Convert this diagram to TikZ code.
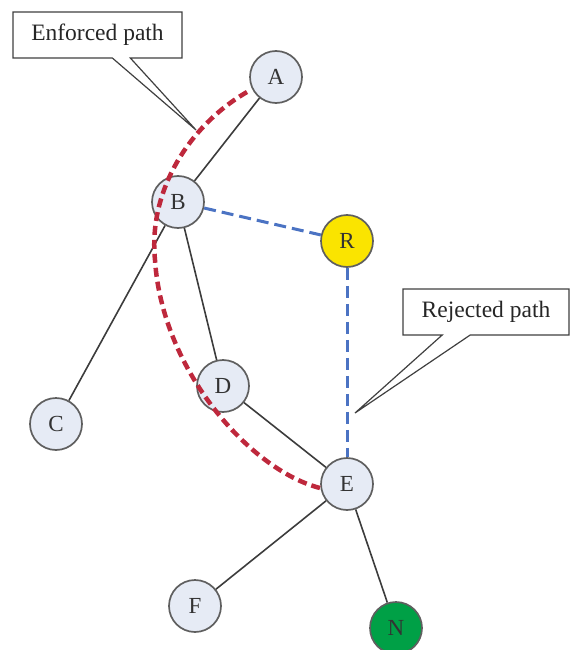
\documentclass[tikz,border=0pt]{standalone}
\usepackage{fontspec}
\setmainfont{Liberation Serif}
\usetikzlibrary{shapes.callouts}
\definecolor{nodefill}{RGB}{230,235,245}
\definecolor{nodeline}{RGB}{95,95,95}
\definecolor{edgecol}{RGB}{60,60,60}
\definecolor{enfred}{RGB}{190,40,60}
\definecolor{rejblue}{RGB}{75,115,195}
\definecolor{ryellow}{RGB}{250,228,0}
\definecolor{ngreen}{RGB}{0,160,70}
\begin{document}
\begin{tikzpicture}[x=1pt,y=-1pt,
  vertex/.style={circle,draw=nodeline,line width=1.7pt,fill=nodefill,minimum size=52pt,inner sep=0pt,
    font=\fontsize{23}{27}\selectfont,text=black!80},
  edge/.style={draw=edgecol,line width=1.6pt},
  rejected/.style={draw=rejblue,line width=3pt,dash pattern=on 12pt off 6pt},
  enforced/.style={draw=enfred,line width=4.5pt,dash pattern=on 9pt off 5pt},
  callbox/.style={rectangle callout,draw=black!75,line width=1.2pt,fill=white,
    font=\fontsize{23.5}{27}\selectfont,text=black!85,minimum height=46pt,inner sep=0pt}
]
\useasboundingbox (0,0) rectangle (570,650);
\node[vertex] (A) at (276,77) {A};
\node[vertex] (B) at (178,202) {B};
\node[vertex,fill=ryellow] (R) at (347,241) {R};
\node[vertex] (C) at (56,424) {C};
\node[vertex] (D) at (223,386) {D};
\node[vertex] (E) at (347,484) {E};
\node[vertex] (F) at (195,606) {F};
\node[vertex,fill=ngreen] (N) at (396,628) {N};
\draw[edge] (A) -- (B);
\draw[edge] (B) -- (C);
\draw[edge] (B) -- (D);
\draw[edge] (D) -- (E);
\draw[edge] (E) -- (F);
\draw[edge] (E) -- (N);
\draw[rejected] (B) -- (R);
\draw[rejected] (R) -- (E);
\coordinate (enfstart) at (247,92);
\coordinate (enfmid) at (155,260);
\coordinate (enfend) at (320,488);
\draw[enforced] (enfstart) .. controls (190,125) and (148,190) .. (enfmid)
  .. controls (162,370) and (250,470) .. (enfend);
\node[callbox,minimum width=169pt,callout absolute pointer={(196,130)},callout pointer width=18pt]
  (enf) at (97.5,35) {Enforced path};
\node[callbox,minimum width=166pt,callout absolute pointer={(355,413)},callout pointer width=28pt]
  (rej) at (486,312) {Rejected path};
\end{tikzpicture}
\end{document}
